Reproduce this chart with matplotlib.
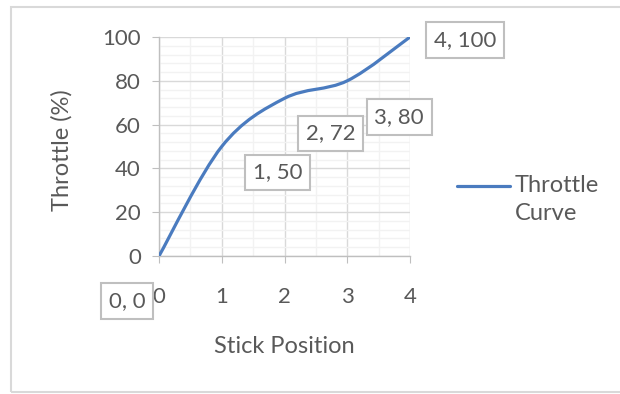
import matplotlib
matplotlib.use("Agg")
import matplotlib.pyplot as plt
from matplotlib.path import Path
from matplotlib.patches import PathPatch, Rectangle
from matplotlib.lines import Line2D

plt.rcParams['font.family'] = ['Lato', 'DejaVu Sans']

# throttle curve points
stick = [0, 1, 2, 3, 4]
throttle = [0, 50, 72, 80, 100]
# label offsets in pixels (dx, dy), as placed on the chart
label_offsets = [(-32, -45), (56, -26), (46, -35), (52, -36), (55, -3)]

line_color = '#4a7bbf'
text_color = '#595959'

fig = plt.figure(figsize=(6.2, 3.94), dpi=100)
ax = fig.add_axes([159 / 620, 1 - 256 / 394, 251 / 620, 219 / 394])

# smooth line: cubic bezier segments through the points (Excel-style smoothing)
pts = list(zip(stick, throttle))
verts = [pts[0]]
codes = [Path.MOVETO]
for i in range(len(pts) - 1):
    p0 = pts[max(i - 1, 0)]
    p1 = pts[i]
    p2 = pts[i + 1]
    p3 = pts[min(i + 2, len(pts) - 1)]
    c1 = (p1[0] + (p2[0] - p0[0]) / 6, p1[1] + (p2[1] - p0[1]) / 6)
    c2 = (p2[0] - (p3[0] - p1[0]) / 6, p2[1] - (p3[1] - p1[1]) / 6)
    verts += [c1, c2, p2]
    codes += [Path.CURVE4] * 3
ax.add_patch(PathPatch(Path(verts, codes), facecolor='none', edgecolor=line_color,
                       lw=2.3, capstyle='round', zorder=3))

ax.set_xlim(0, 4)
ax.set_ylim(0, 100)
ax.set_xticks(range(0, 5))
ax.set_yticks(range(0, 101, 20))
ax.set_xticks([x / 2 for x in range(9)], minor=True)
ax.set_yticks(range(0, 101, 4), minor=True)
ax.grid(True, which='major', color='#d9d9d9', lw=1.0, zorder=0)
ax.grid(True, which='minor', color='#f2f2f2', lw=1.0, zorder=0)
ax.set_axisbelow(True)

for s in ['top', 'right']:
    ax.spines[s].set_visible(False)
for s in ['left', 'bottom']:
    ax.spines[s].set_color('#bfbfbf')
    ax.spines[s].set_linewidth(1.0)

ax.tick_params(axis='both', which='minor', length=0)
ax.tick_params(axis='y', which='major', length=5, color='#bfbfbf', labelsize=16,
               labelcolor=text_color, pad=8)
ax.tick_params(axis='x', which='major', length=5, color='#bfbfbf', labelsize=16,
               labelcolor=text_color, pad=17)

ax.set_xlabel('Stick Position', fontsize=17, color=text_color, va='center')
ax.set_ylabel('Throttle (%)', fontsize=17, color=text_color, va='center')
ax.xaxis.set_label_coords((284 - 159) / 251, (256 - 347) / 219)
ax.yaxis.set_label_coords((62 - 159) / 251, (256 - 150) / 219)

for x, y, (dx, dy) in zip(stick, throttle, label_offsets):
    ax.annotate(f'{x}, {y}', (x, y), xytext=(dx, dy), textcoords='offset pixels',
                ha='center', va='center', fontsize=16, color=text_color,
                annotation_clip=False, zorder=5,
                bbox=dict(boxstyle='square,pad=0.35', fc='white', ec='#bfbfbf', lw=1.5))

# legend
fig.add_artist(Line2D([457 / 620, 510 / 620], [1 - 186 / 394] * 2, color=line_color,
                      lw=2.3, solid_capstyle='round'))
fig.text(515 / 620, 1 - 186 / 394, 'Throttle', fontsize=17, color=text_color,
         ha='left', va='center')
fig.text(515 / 620, 1 - 214 / 394, 'Curve', fontsize=17, color=text_color,
         ha='left', va='center')

# chart border, open on the right
fig.patches.append(Rectangle((11 / 620, 1 - 392 / 394), 1.1, (392 - 7) / 394,
                             transform=fig.transFigure, fill=False,
                             ec='#d9d9d9', lw=1.5))

fig.savefig('out.png', dpi=100)
